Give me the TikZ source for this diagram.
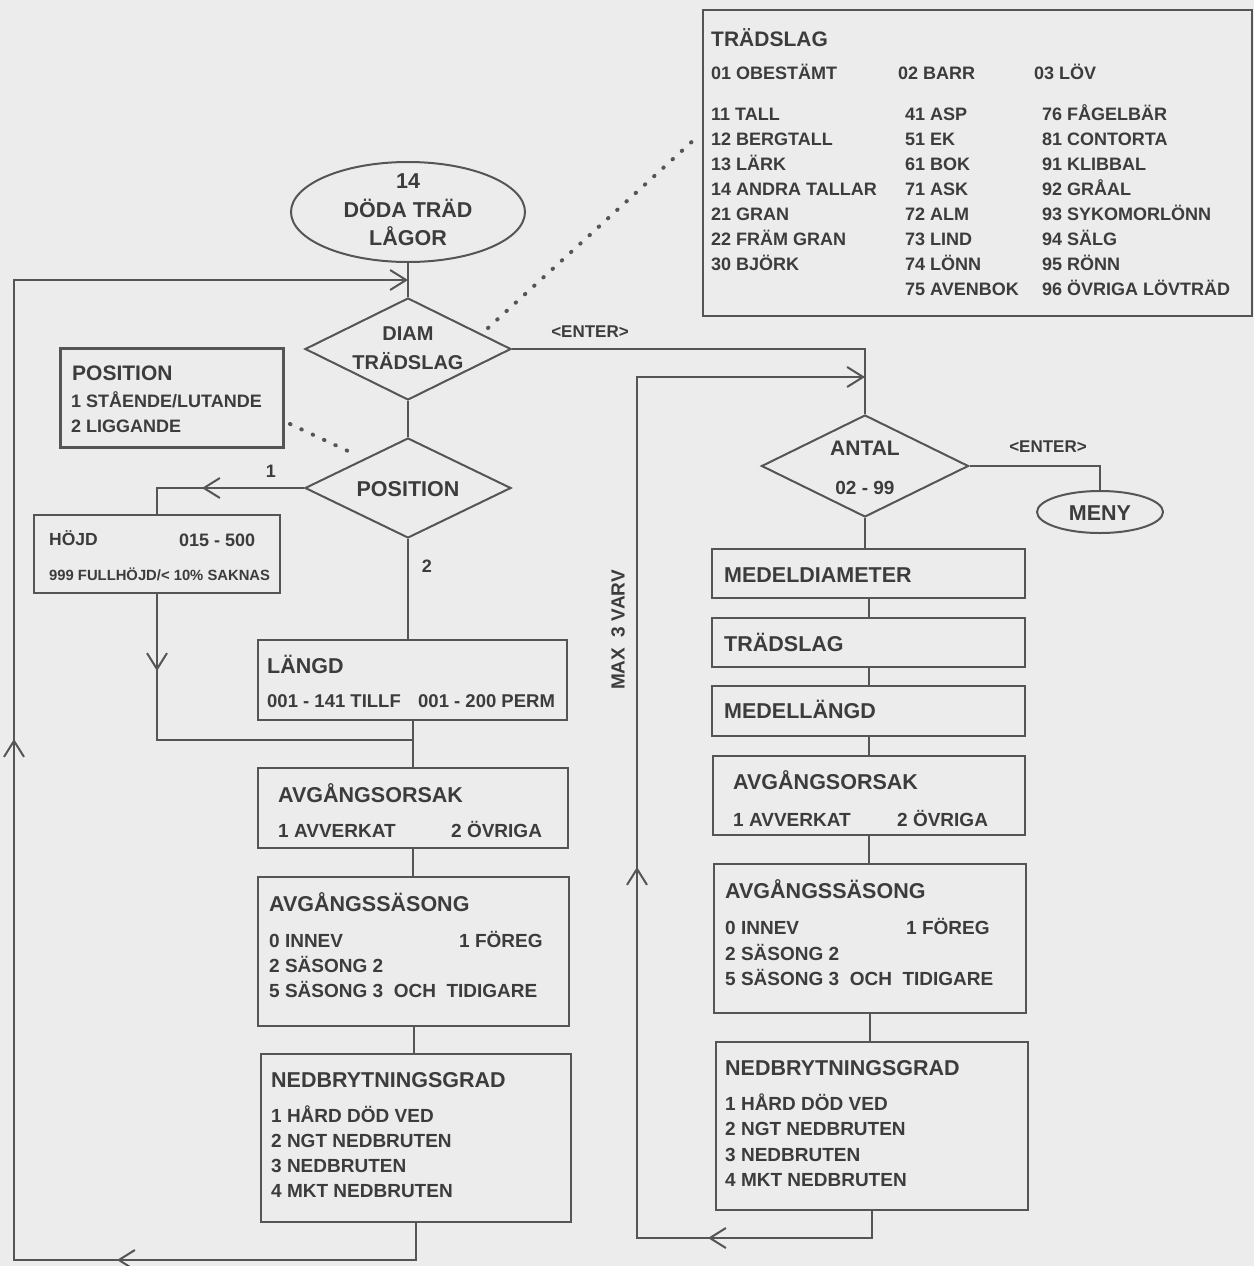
\documentclass[tikz,border=0pt]{standalone}
\usepackage{fontspec}
\setmainfont{Liberation Sans}
\usetikzlibrary{shapes.geometric,arrows.meta,decorations.markings}
\definecolor{bgc}{RGB}{236,236,236}
\definecolor{lc}{RGB}{85,85,85}
\definecolor{tc}{RGB}{60,60,60}
\newcommand{\barbtip}{\arrow{Straight Barb[length=16pt,width=20pt,line width=2pt,color=lc]}}
\begin{document}
\begin{tikzpicture}[x=1pt,y=-1pt,
  conn/.style={draw=lc,line width=2pt},
  bx/.style={draw=lc,line width=2pt,rectangle,inner sep=0pt},
  oval/.style={draw=lc,line width=2pt,ellipse,inner sep=0pt},
  dia/.style={draw=lc,line width=2pt,diamond,inner sep=0pt},
  txt/.style={inner sep=0pt,text=tc,anchor=base west,font=\bfseries\fontsize{19}{22}\selectfont},
  big/.style={txt,font=\bfseries\fontsize{21.5}{24}\selectfont},
  sml/.style={txt,font=\bfseries\fontsize{18}{20}\selectfont},
  mid/.style={anchor=base},
  dotline/.style={draw=lc,line width=4pt,line cap=round,dash pattern=on 0.5pt off 12pt},
  am/.style={postaction={decorate,decoration={markings,mark=at position #1 with {\barbtip}}}},
  amtwo/.style 2 args={postaction={decorate,decoration={markings,mark=at position #1 with {\barbtip},mark=at position #2 with {\barbtip}}}},
  endarr/.style={-{Straight Barb[length=16pt,width=20pt]}}
]
\fill[bgc] (0,0) rectangle (1254,1266);
\useasboundingbox (0,0) rectangle (1254,1266);

% ---------- TRADSLAG list box ----------
\node[bx,line width=2.5pt,minimum width=549pt,minimum height=306pt] (TS) at (977.5,163) {};
\node[big,font=\bfseries\fontsize{21}{24}\selectfont] (ts0) at (711,46) {TRÄDSLAG};
\node[sml] (ts1) at (711,79) {01 OBESTÄMT};
\node[sml] (ts2) at (898,79) {02 BARR};
\node[sml] (ts3) at (1034,79) {03 LÖV};
\node[sml] (ta1) at (711,120) {11 TALL};
\node[sml] (ta2) at (711,145) {12 BERGTALL};
\node[sml] (ta3) at (711,170) {13 LÄRK};
\node[sml] (ta4) at (711,195) {14 ANDRA TALLAR};
\node[sml] (ta5) at (711,220) {21 GRAN};
\node[sml] (ta6) at (711,245) {22 FRÄM GRAN};
\node[sml] (ta7) at (711,270) {30 BJÖRK};
\node[sml] (tb1) at (905,120) {41 ASP};
\node[sml] (tb2) at (905,145) {51 EK};
\node[sml] (tb3) at (905,170) {61 BOK};
\node[sml] (tb4) at (905,195) {71 ASK};
\node[sml] (tb5) at (905,220) {72 ALM};
\node[sml] (tb6) at (905,245) {73 LIND};
\node[sml] (tb7) at (905,270) {74 LÖNN};
\node[sml] (tb8) at (905,295) {75 AVENBOK};
\node[sml] (tc1) at (1042,120) {76 FÅGELBÄR};
\node[sml] (tc2) at (1042,145) {81 CONTORTA};
\node[sml] (tc3) at (1042,170) {91 KLIBBAL};
\node[sml] (tc4) at (1042,195) {92 GRÅAL};
\node[sml] (tc5) at (1042,220) {93 SYKOMORLÖNN};
\node[sml] (tc6) at (1042,245) {94 SÄLG};
\node[sml] (tc7) at (1042,270) {95 RÖNN};
\node[sml] (tc8) at (1042,295) {96 ÖVRIGA LÖVTRÄD};

% ---------- start ellipse ----------
\node[oval,minimum width=234pt,minimum height=100pt] (E) at (408,212) {};
\node[big,mid] (e1) at (408,188) {14};
\node[big,mid] (e2) at (408,217) {DÖDA TRÄD};
\node[big,mid] (e3) at (408,245) {LÅGOR};

% ---------- DIAM diamond ----------
\node[dia,minimum width=206pt,minimum height=102pt] (DIAM) at (408,349) {};
\node[txt,mid,font=\bfseries\fontsize{20}{22}\selectfont] (d1) at (408,340) {DIAM};
\node[txt,mid,font=\bfseries\fontsize{20}{22}\selectfont] (d2) at (408,369) {TRÄDSLAG};

% ---------- POSITION info box ----------
\node[bx,line width=3pt,minimum width=223pt,minimum height=99pt] (PB) at (171.5,397.5) {};
\node[big,font=\bfseries\fontsize{21}{24}\selectfont] (pb1) at (72,380) {POSITION};
\node[sml] (pb2) at (71,407) {1 STÅENDE/LUTANDE};
\node[sml] (pb3) at (71,432) {2 LIGGANDE};

% ---------- POSITION diamond ----------
\node[dia,minimum width=206pt,minimum height=100pt] (PD) at (408,488) {};
\node[big,mid] (pd1) at (408,496) {POSITION};
\node[sml,mid] (l1) at (271,477) {1};
\node[sml,mid] (l2) at (427,572) {2};

% ---------- HOJD box ----------
\node[bx,minimum width=246pt,minimum height=78pt] (HB) at (157,554) {};
\node[txt,font=\bfseries\fontsize{17.5}{20}\selectfont] (hb1) at (49,545) {HÖJD};
\node[sml] (hb2) at (179,546) {015 - 500};
\node[txt,font=\bfseries\fontsize{14.8}{17}\selectfont] (hb3) at (49,580) {999 FULLHÖJD/< 10\% SAKNAS};

% ---------- LANGD box ----------
\node[bx,minimum width=309pt,minimum height=80pt] (LB) at (412.5,680) {};
\node[big] (lb1) at (267,673) {LÄNGD};
\node[txt,font=\bfseries\fontsize{18.5}{21}\selectfont] (lb2) at (267,707) {001 - 141 TILLF};
\node[txt,font=\bfseries\fontsize{18.5}{21}\selectfont] (lb3) at (418,707) {001 - 200 PERM};

% ---------- left AVGANGSORSAK ----------
\node[bx,minimum width=310pt,minimum height=80pt] (AO) at (413,808) {};
\node[big] (ao1) at (278,802) {AVGÅNGSORSAK};
\node[txt] (ao2) at (278,837) {1 AVVERKAT};
\node[txt] (ao3) at (451,837) {2 ÖVRIGA};

% ---------- left AVGANGSSASONG ----------
\node[bx,minimum width=311pt,minimum height=149pt] (AS) at (413.5,951.5) {};
\node[big] (as1) at (269,911) {AVGÅNGSSÄSONG};
\node[txt] (as2) at (269,947) {0 INNEV};
\node[txt] (as3) at (459,947) {1 FÖREG};
\node[txt] (as4) at (269,972) {2 SÄSONG 2};
\node[txt] (as5) at (269,997) {5 SÄSONG 3\ \ OCH\ \ TIDIGARE};

% ---------- left NEDBRYTNINGSGRAD ----------
\node[bx,minimum width=310pt,minimum height=168pt] (NB) at (416,1138) {};
\node[big] (nb1) at (271,1087) {NEDBRYTNINGSGRAD};
\node[txt] (nb2) at (271,1122) {1 HÅRD DÖD VED};
\node[txt] (nb3) at (271,1147) {2 NGT NEDBRUTEN};
\node[txt] (nb4) at (271,1172) {3 NEDBRUTEN};
\node[txt] (nb5) at (271,1197) {4 MKT NEDBRUTEN};

% ---------- right column ----------
\node[dia,minimum width=207pt,minimum height=102pt] (AD) at (865,466) {};
\node[big,mid,font=\bfseries\fontsize{21}{24}\selectfont] (ad1) at (865,455) {ANTAL};
\node[txt,mid] (ad2) at (865,494) {02 - 99};
\node[oval,minimum width=126pt,minimum height=42pt] (ME) at (1100,512) {};
\node[big,mid] (me1) at (1100,520) {MENY};

\node[bx,minimum width=313pt,minimum height=49pt] (MD) at (868.5,573.5) {};
\node[big] (md1) at (724,582) {MEDELDIAMETER};
\node[bx,minimum width=313pt,minimum height=49pt] (TR) at (868.5,642.5) {};
\node[big] (tr1) at (724,651) {TRÄDSLAG};
\node[bx,minimum width=313pt,minimum height=50pt] (ML) at (868.5,711) {};
\node[big] (ml1) at (724,718) {MEDELLÄNGD};

\node[bx,minimum width=312pt,minimum height=79pt] (RAO) at (869,795.5) {};
\node[big] (rao1) at (733,789) {AVGÅNGSORSAK};
\node[txt] (rao2) at (733,826) {1 AVVERKAT};
\node[txt] (rao3) at (897,826) {2 ÖVRIGA};

\node[bx,minimum width=312pt,minimum height=149pt] (RAS) at (870,938.5) {};
\node[big] (ras1) at (725,898) {AVGÅNGSSÄSONG};
\node[txt] (ras2) at (725,934) {0 INNEV};
\node[txt] (ras3) at (906,934) {1 FÖREG};
\node[txt] (ras4) at (725,960) {2 SÄSONG 2};
\node[txt] (ras5) at (725,985) {5 SÄSONG 3\ \ OCH\ \ TIDIGARE};

\node[bx,minimum width=312pt,minimum height=168pt] (RNB) at (872,1126) {};
\node[big] (rnb1) at (725,1075) {NEDBRYTNINGSGRAD};
\node[txt] (rnb2) at (725,1110) {1 HÅRD DÖD VED};
\node[txt] (rnb3) at (725,1135) {2 NGT NEDBRUTEN};
\node[txt] (rnb4) at (725,1161) {3 NEDBRUTEN};
\node[txt] (rnb5) at (725,1186) {4 MKT NEDBRUTEN};

% ---------- labels ----------
\node[txt,mid,font=\bfseries\fontsize{17}{20}\selectfont] (en1) at (590,337) {<ENTER>};
\node[txt,mid,font=\bfseries\fontsize{17}{20}\selectfont] (en2) at (1048,452) {<ENTER>};
\node[txt,anchor=center,rotate=90] (mx) at (618,630) {MAX\ \ 3 VARV};

% ---------- coordinates ----------
\coordinate (J1) at (408,280);
\coordinate (J2) at (412.5,740);
\coordinate (J3) at (865,377);
\coordinate (L1) at (14,1260);
\coordinate (L2) at (14,280);
\coordinate (R1) at (637,1238);
\coordinate (R2) at (637,377);
\coordinate (dA) at (488,328);
\coordinate (dB) at (697,137);
\coordinate (dC) at (290,424);
\coordinate (dD) at (350,452);

% ---------- connectors ----------
\draw[conn] (E.south) -- (DIAM.north);
\draw[conn] (DIAM.south) -- (PD.north);
\draw[conn] (DIAM.east) -- (DIAM.east -| AD.north) -- (AD.north);
\draw[conn] (AD.east) -- (AD.east -| ME.north) -- (ME.north);
\draw[conn,am=102pt] (PD.west) -- (PD.west -| HB.north) -- (HB.north);
\draw[conn] (PD.south) -- (PD.south |- LB.north);
\draw[conn] (LB.south) -- (LB.south |- AO.north);
\draw[conn,am=77pt] (HB.south) -- (HB.south |- J2) -- (J2);
\draw[conn] (AO.south) -- (AO.south |- AS.north);
\draw[conn] (AS.south) -- (AS.south |- NB.north);
\draw[conn,endarr,amtwo={336pt}{960pt}] (NB.south) -- (NB.south |- L1) -- (L1) -- (L2) -- (J1);

\draw[conn] (AD.south) -- (AD.south |- MD.north);
\draw[conn] (MD.south) -- (MD.south |- TR.north);
\draw[conn] (TR.south) -- (TR.south |- ML.north);
\draw[conn] (ML.south) -- (ML.south |- RAO.north);
\draw[conn] (RAO.south) -- (RAO.south |- RAS.north);
\draw[conn] (RAS.south) -- (RAS.south |- RNB.north);
\draw[conn,endarr,amtwo={191pt}{633pt}] (RNB.south) -- (RNB.south |- R1) -- (R1) -- (R2) -- (J3);

\draw[dotline] (dA) -- (dB);
\draw[dotline] (dC) -- (dD);
\end{tikzpicture}
\end{document}
